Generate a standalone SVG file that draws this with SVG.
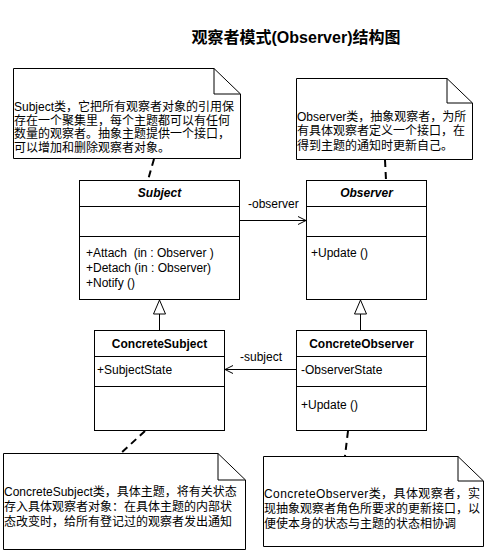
<svg xmlns="http://www.w3.org/2000/svg" width="485" height="553" viewBox="0 0 485 553">
<style>
text{font-family:"Liberation Sans","Noto Sans CJK SC",Arial,sans-serif;font-size:12px;fill:#000}
.title{font-size:16px;font-weight:bold}
.name{font-weight:bold;text-anchor:middle}
.abs{font-style:italic}
.box{fill:#fff;stroke:#000;stroke-width:1}
.note{fill:#fff;stroke:#000;stroke-width:1}
.fold{fill:none;stroke:#000;stroke-width:1}
.dash{fill:none;stroke:#000;stroke-width:2;stroke-dasharray:7 5}
.line{fill:none;stroke:#000;stroke-width:1}
</style>
<defs>
<marker id="open" markerWidth="10" markerHeight="10" refX="9" refY="5" orient="auto" markerUnits="userSpaceOnUse">
<path d="M1,1 L9,5 L1,9" fill="none" stroke="#000" stroke-width="1"/>
</marker>
</defs>
<rect width="485" height="553" fill="#fff"/>
<text class="title" x="296" y="42.5" text-anchor="middle">观察者模式(Observer)结构图</text>

<g id="note-subject">
<path class="note" d="M13.5,68.5 H214 L240.5,94 V158.5 H13.5 Z"/>
<path class="fold" d="M214,68.5 V94 H240.5"/>
<text x="14" y="111">Subject类，它把所有观察者对象的引用保</text>
<text x="14" y="124.5">存在一个聚集里，每个主题都可以有任何</text>
<text x="14" y="138">数量的观察者。抽象主题提供一个接口，</text>
<text x="14" y="151.5">可以增加和删除观察者对象。</text>
</g>

<g id="note-observer">
<path class="note" d="M296.5,78.5 H447 L472.5,103 V159.5 H296.5 Z"/>
<path class="fold" d="M447,78.5 V103 H472.5"/>
<text x="297" y="121">Observer类，抽象观察者，为所</text>
<text x="297" y="135">有具体观察者定义一个接口，在</text>
<text x="297" y="149.5">得到主题的通知时更新自己。</text>
</g>

<g id="subject">
<rect class="box" x="79.5" y="180.5" width="160" height="119"/>
<line class="line" x1="79.5" y1="206.5" x2="239.5" y2="206.5"/>
<line class="line" x1="79.5" y1="236.5" x2="239.5" y2="236.5"/>
<text class="name abs" x="159.5" y="197">Subject</text>
<text x="86" y="257" xml:space="preserve" style="white-space:pre">+Attach  (in : Observer )</text>
<text x="86" y="272">+Detach (in : Observer)</text>
<text x="86" y="287">+Notify ()</text>
</g>

<g id="observer">
<rect class="box" x="306.5" y="180.5" width="120" height="119"/>
<line class="line" x1="306.5" y1="206.5" x2="426.5" y2="206.5"/>
<line class="line" x1="306.5" y1="236.5" x2="426.5" y2="236.5"/>
<text class="name abs" x="366.5" y="197">Observer</text>
<text x="311" y="257">+Update ()</text>
</g>

<g id="concrete-subject">
<rect class="box" x="94.5" y="330.5" width="130" height="100"/>
<line class="line" x1="94.5" y1="356.5" x2="224.5" y2="356.5"/>
<line class="line" x1="94.5" y1="386.5" x2="224.5" y2="386.5"/>
<text class="name" x="159.5" y="347.5">ConcreteSubject</text>
<text x="97" y="373.5">+SubjectState</text>
</g>

<g id="concrete-observer">
<rect class="box" x="296.5" y="330.5" width="130" height="100"/>
<line class="line" x1="296.5" y1="356.5" x2="426.5" y2="356.5"/>
<line class="line" x1="296.5" y1="386.5" x2="426.5" y2="386.5"/>
<text class="name" x="361.5" y="347.5">ConcreteObserver</text>
<text x="301" y="373.5">-ObserverState</text>
<text x="301" y="408.5">+Update ()</text>
</g>

<g id="note-concrete-subject">
<path class="note" d="M3.5,453.5 H218 L245.5,480 V549.5 H3.5 Z"/>
<path class="fold" d="M218,453.5 V480 H245.5"/>
<text x="4" y="496">ConcreteSubject类，具体主题，将有关状态</text>
<text x="4" y="511">存入具体观察者对象：在具体主题的内部状</text>
<text x="4" y="526">态改变时，给所有登记过的观察者发出通知</text>
</g>

<g id="note-concrete-observer">
<path class="note" d="M263.5,456.5 H458 L483.5,481 V546.5 H263.5 Z"/>
<path class="fold" d="M458,456.5 V481 H483.5"/>
<text x="264" y="498" textLength="216" lengthAdjust="spacing">ConcreteObserver类，具体观察者，实</text>
<text x="264" y="513">现抽象观察者角色所要求的更新接口，以</text>
<text x="264" y="528">便使本身的状态与主题的状态相协调</text>
</g>

<g id="connectors">
<line class="dash" x1="154" y1="159" x2="148" y2="180"/>
<line class="dash" x1="385" y1="160" x2="386" y2="180"/>
<line class="dash" x1="145" y1="431" x2="120" y2="454"/>
<line class="dash" x1="348" y1="431" x2="345" y2="456"/>
<line class="line" x1="239.5" y1="220.5" x2="306" y2="220.5" marker-end="url(#open)"/>
<text x="248" y="208">-observer</text>
<line class="line" x1="296.5" y1="369.5" x2="225" y2="369.5" marker-end="url(#open)"/>
<text x="240" y="361">-subject</text>
<line class="line" x1="159.5" y1="314" x2="159.5" y2="330.5"/>
<path class="line" d="M159.5,300 L165.5,314 H153.5 Z" fill="#fff"/>
<line class="line" x1="360.5" y1="314" x2="360.5" y2="330.5"/>
<path class="line" d="M360.5,300 L366.5,314 H354.5 Z" fill="#fff"/>
</g>
</svg>
